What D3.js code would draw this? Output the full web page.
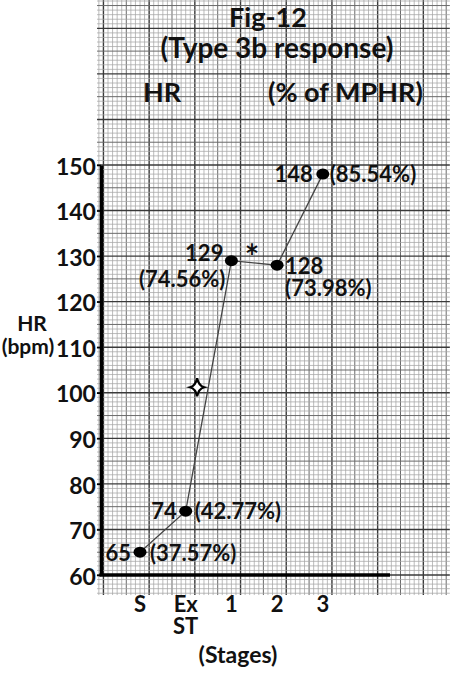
<!DOCTYPE html>
<html>
<head>
<meta charset="utf-8">
<script src="https://cdn.jsdelivr.net/npm/d3@7"></script>
<style>
  html, body { margin: 0; padding: 0; background: #fff; }
  svg { display: block; }
  text { font-family: Lato, "Open Sans", sans-serif; font-weight: bold; fill: #111; }
</style>
</head>
<body>
<svg id="chart" width="454" height="675"></svg>
<script>
// data
const stages = ["S", "Ex\nST", "1", "2", "3"];
const hrValues = [65, 74, 129, 128, 148];
const pctValues = ["(37.57%)", "(42.77%)", "(74.56%)", "(73.98%)", "(85.54%)"];
const yTicks = [60, 70, 80, 90, 100, 110, 120, 130, 140, 150];

// label placement per point: [hr dx, hr dy, hr anchor, pct dx, pct dy, pct anchor]
const labelPos = [
  [-9, 1, "end", 10, 1, "start"],
  [-9, 0, "end", 9, 0, "start"],
  [-8, -8, "end", -6, 18, "end"],
  [8, 1, "start", 8, 23, "start"],
  [-10, 0, "end", 7, 0, "start"]
];

const svg = d3.select("#chart");

// stage index -> px, bpm -> px
const x = d3.scaleLinear().domain([0, 4]).range([140, 322.8]);
const y = d3.scaleLinear().domain([60, 150]).range([575, 165]);

// graph paper
const gx0 = -0.94, gx1 = 6.78, gy0 = 55.6, gy1 = 186.5;
const grid = svg.append("g").attr("class", "grid");

const vLines = d3.range(-9, 68).map(i => i / 10);
grid.selectAll("line.v").data(vLines).join("line")
  .attr("class", "v")
  .attr("x1", d => x(d)).attr("x2", d => x(d))
  .attr("y1", y(gy1)).attr("y2", y(gy0))
  .attr("stroke", (d, i) => (i + 9) % 10 === 0 ? "#3a3a3a" : (i + 9) % 5 === 0 ? "#6a6a6a" : "#a6a6a6")
  .attr("stroke-width", (d, i) => (i + 9) % 10 === 0 ? 1.4 : (i + 9) % 5 === 0 ? 1 : 0.75);

const hLines = d3.range(56, 187);
grid.selectAll("line.h").data(hLines).join("line")
  .attr("class", "h")
  .attr("y1", d => y(d)).attr("y2", d => y(d))
  .attr("x1", x(gx0)).attr("x2", x(gx1))
  .attr("stroke", d => d % 10 === 0 ? "#3a3a3a" : d % 5 === 0 ? "#6a6a6a" : "#a6a6a6")
  .attr("stroke-width", d => d % 10 === 0 ? 1.4 : d % 5 === 0 ? 1 : 0.75);

// axes
const axisLeftX = x(-0.855);
const axisRightX = x(5.47);

const yAxis = svg.append("g")
  .attr("transform", `translate(${axisLeftX},0)`)
  .call(d3.axisLeft(y).tickValues(yTicks).tickSize(4).tickSizeOuter(0).tickPadding(1));
yAxis.select(".domain").attr("stroke", "#000").attr("stroke-width", 3.5);
yAxis.selectAll(".tick line").attr("stroke", "#000").attr("stroke-width", 1.5);
yAxis.selectAll(".tick text")
  .attr("font-size", 23).attr("font-family", "Lato, sans-serif")
  .attr("font-weight", "bold").attr("fill", "#111")
  .attr("dy", "0.4em");

svg.append("line")
  .attr("x1", axisLeftX - 1.5).attr("x2", axisRightX)
  .attr("y1", y(60)).attr("y2", y(60))
  .attr("stroke", "#000").attr("stroke-width", 3.5);

// stage labels
const xLab = svg.append("g");
stages.forEach((s, i) => {
  const t = xLab.append("text")
    .attr("x", x(i)).attr("y", 612)
    .attr("text-anchor", "middle")
    .attr("font-size", 22);
  s.split("\n").forEach((part, j) => {
    t.append("tspan").attr("x", x(i)).attr("dy", j === 0 ? 0 : 22).text(part);
  });
});

svg.append("text").attr("x", 238).attr("y", 663)
  .attr("text-anchor", "middle").attr("font-size", 23).text("(Stages)");

svg.append("text").attr("x", 32).attr("y", 331)
  .attr("text-anchor", "middle").attr("font-size", 21).text("HR");
svg.append("text").attr("x", 28).attr("y", 354)
  .attr("text-anchor", "middle").attr("font-size", 21).text("(bpm)");

// titles
svg.append("text").attr("x", 268).attr("y", 27)
  .attr("text-anchor", "middle").attr("font-size", 27).text("Fig-12");
svg.append("text").attr("x", 277).attr("y", 58)
  .attr("text-anchor", "middle").attr("font-size", 28).text("(Type 3b response)");
svg.append("text").attr("x", 143).attr("y", 102)
  .attr("font-size", 27).text("HR");
svg.append("text").attr("x", 268).attr("y", 102)
  .attr("font-size", 27).text("(% of MPHR)");

// line + points
const pts = hrValues.map((v, i) => ({ i, v, pct: pctValues[i] }));

svg.append("path")
  .datum(pts)
  .attr("fill", "none")
  .attr("stroke", "#444")
  .attr("stroke-width", 1.3)
  .attr("d", d3.line().x(d => x(d.i)).y(d => y(d.v)));

svg.selectAll("ellipse.pt").data(pts).join("ellipse")
  .attr("class", "pt")
  .attr("cx", d => x(d.i)).attr("cy", d => y(d.v))
  .attr("rx", 6.5).attr("ry", 5.5)
  .attr("fill", "#000");

svg.selectAll("text.hr").data(pts).join("text")
  .attr("class", "hr")
  .attr("x", d => x(d.i) + labelPos[d.i][0])
  .attr("y", d => y(d.v) + labelPos[d.i][1] + 8)
  .attr("text-anchor", d => labelPos[d.i][2])
  .attr("font-size", 22)
  .text(d => d.v);

svg.selectAll("text.pct").data(pts).join("text")
  .attr("class", "pct")
  .attr("x", d => x(d.i) + labelPos[d.i][3])
  .attr("y", d => y(d.v) + labelPos[d.i][4] + 8)
  .attr("text-anchor", d => labelPos[d.i][5])
  .attr("font-size", 22)
  .text(d => d.pct);

// significance marks
const starPos = { i: 1.25, v: 101.2 };
const starPath = "M0,-9 Q1.5,-1.5 7,0 Q1.5,1.5 0,9 Q-1.5,1.5 -7,0 Q-1.5,-1.5 0,-9 Z";
svg.append("path")
  .attr("transform", `translate(${x(starPos.i)},${y(starPos.v)})`)
  .attr("d", starPath)
  .attr("fill", "#fff").attr("stroke", "#000").attr("stroke-width", 2.2);

const astPos = { i: 2.45, v: 131 };
svg.append("text")
  .attr("x", x(astPos.i)).attr("y", y(astPos.v) + 17)
  .attr("text-anchor", "middle").attr("font-size", 34).text("*");
</script>
</body>
</html>
